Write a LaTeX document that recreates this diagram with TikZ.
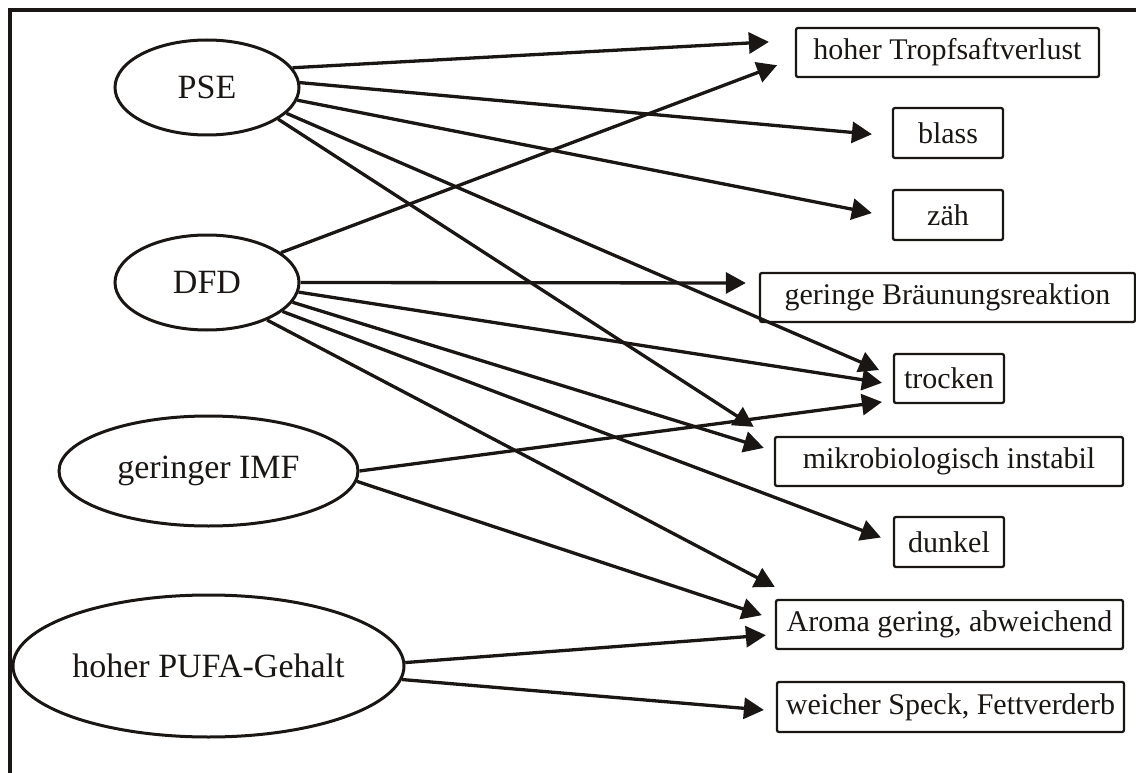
\documentclass[tikz,border=0pt]{standalone}
\usepackage{fontspec}
\setmainfont{Liberation Serif}
\usetikzlibrary{arrows.meta,shapes.geometric}
\definecolor{ink}{RGB}{26,22,19}
\begin{document}
\begin{tikzpicture}[x=1pt,y=-1pt,
  cause/.style={ellipse,draw=ink,line width=3pt,inner sep=0pt,text=ink,font=\fontsize{34}{38}\selectfont},
  effect/.style={rectangle,draw=ink,line width=2.3pt,rounded corners=2pt,inner sep=0pt,
    minimum height=49pt,text=ink,font=\fontsize{30}{34}\selectfont},
  link/.style={draw=ink,line width=3.3pt,-{Triangle[length=20pt,width=21pt]}}]
\useasboundingbox (0,0) rectangle (1136,773);
% frame
\draw[ink,line width=3.5pt] (10,773) -- (10,10) -- (1136,10);

% causes
\node[cause,minimum width=184pt,minimum height=95pt] (pse)  at (207,87.5)  {PSE};
\node[cause,minimum width=184pt,minimum height=95pt] (dfd)  at (207,282.5) {DFD};
\node[cause,minimum width=299pt,minimum height=110pt] (imf) at (208.5,471) {geringer IMF};
\node[cause,minimum width=391pt,minimum height=142pt] (pufa) at (208.5,666) {hoher PUFA-Gehalt};

% effects
\node[effect,minimum width=303pt] (tropf)   at (947.5,52.5)  {hoher Tropfsaftverlust};
\node[effect,minimum width=110pt,minimum height=50pt] (blass) at (948,133) {blass};
\node[effect,minimum width=110pt,minimum height=50pt] (zaeh)  at (948,215) {zäh};
\node[effect,minimum width=375pt] (braeun)  at (947.5,297.5) {geringe Bräunungsreaktion};
\node[effect,minimum width=110pt] (trocken) at (949,378.5)   {trocken};
\node[effect,minimum width=348pt] (mikro)   at (949,461.5)   {mikrobiologisch instabil};
\node[effect,minimum width=110pt,minimum height=50pt] (dunkel) at (949,542) {dunkel};
\node[effect,minimum width=347pt] (aroma)   at (949.5,624.5) {Aroma gering, abweichend};
\node[effect,minimum width=347pt,minimum height=50pt] (weich) at (950.5,707) {weicher Speck, Fettverderb};

% PSE
\draw[link,shorten >=26pt]   (pse.13)  -- ([yshift=12pt]tropf.west);
\draw[link,shorten >=20pt]   (pse.3)   -- ([yshift=-3pt]blass.west);
\draw[link,shorten >=20.4pt] (pse.-8)  -- ([yshift=-2pt]zaeh.west);
\draw[link,shorten >=15pt]   (pse.-18) -- ([yshift=2.5pt]trocken.west);
\draw[link,shorten >=24pt]   (pse.-24) -- ([yshift=21.6pt]mikro.west);

% DFD
\draw[link,shorten >=19pt]   (dfd.22)  -- ([yshift=-6pt]tropf.west);
\draw[link,shorten >=13pt]   (dfd.0)   -- ([yshift=14.5pt]braeun.west);
\draw[link,shorten >=11pt]   (dfd.-6)  -- ([yshift=-6pt]trocken.west);
\draw[link,shorten >=10.5pt] (dfd.-13) -- ([yshift=10.5pt]mikro.west);
\draw[link,shorten >=12.8pt] (dfd.-21) -- (dunkel.west);
\draw[link,shorten >=25.7pt] (dfd.-32) -- ([xshift=22.7pt]aroma.north west);

% geringer IMF
\draw[link,shorten >=11pt]   (imf.0)   -- ([yshift=-22pt]trocken.west);
\draw[link,shorten >=13.7pt] (imf.-4)  -- ([yshift=5pt]aroma.west);

% hoher PUFA-Gehalt
\draw[link,shorten >=9pt]    (pufa.1)    -- ([yshift=-10pt]aroma.west);
\draw[link,shorten >=12pt]   (pufa.-4.5) -- ([yshift=-4pt]weich.west);
\end{tikzpicture}
\end{document}
